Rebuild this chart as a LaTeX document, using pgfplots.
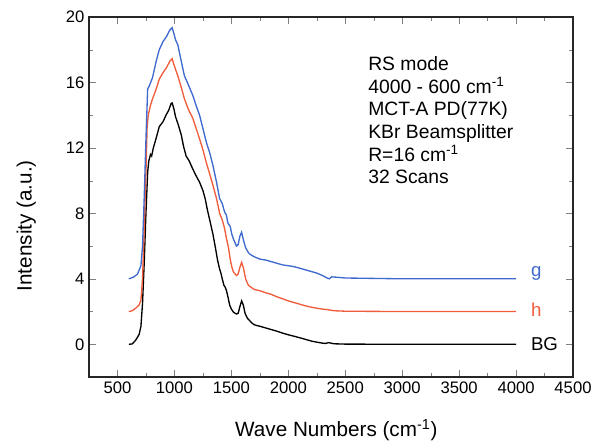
\documentclass[border=0pt]{standalone}
\usepackage{fontspec}
\setmainfont{Liberation Sans}
\usepackage{pgfplots}
\pgfplotsset{compat=1.18}
\definecolor{gblue}{RGB}{62,105,205}
\definecolor{hred}{RGB}{240,92,60}

\begin{document}
\begin{tikzpicture}
\begin{axis}[
    scale only axis,
    width=363pt, height=270pt,
    xmin=250, xmax=4500, ymin=-2, ymax=20,
    xtick={500,1000,...,4500}, ytick={0,4,...,20},
    minor x tick num=1, minor y tick num=1,
    tick align=inside,
    major tick length=5pt, minor tick length=3pt,
    /pgf/number format/assume math mode=true,
    /pgf/number format/1000 sep={},
    tick label style={font=\fontsize{12.5}{14}\selectfont},
    xlabel={Wave Numbers (cm\textsuperscript{-1})},
    ylabel={Intensity (a.u.)},
    every axis x label/.style={at={(axis description cs:0.5,0)}, xshift=4pt, yshift=-40pt,
        anchor=center, font=\fontsize{15.5}{18}\selectfont},
    every axis y label/.style={at={(axis description cs:0,0.42)}, xshift=-47pt, rotate=90,
        anchor=center, font=\fontsize{15.5}{18}\selectfont},
    axis line style={line width=0.9pt, black!85},
    every axis plot/.append style={line width=1pt, mark=none},
]
% BG
\addplot[black] coordinates {
(600,0)(630,0.02)(660,0.25)(690,0.6)(706,1.1)(720,2.5)(735,5)(750,8)(765,10.5)(775,11.2)
(790,11.6)(800,11.5)(815,12.0)(840,12.6)(867,13.3)(900,13.6)(926,14.0)(950,14.3)(970,14.7)
(980,14.75)(995,14.4)(1010,13.9)(1030,13.5)(1060,12.8)(1080,12.1)(1103,11.5)(1130,11.2)
(1162,10.7)(1190,10.3)(1221,9.9)(1250,9.4)(1270,8.9)(1290,8.2)(1310,7.6)(1339,6.7)(1360,5.9)
(1380,5.1)(1397,4.6)(1410,4.3)(1420,4.0)(1435,3.6)(1445,3.5)(1456,3.3)(1470,2.9)(1485,2.4)
(1500,2.15)(1520,1.95)(1545,1.85)(1560,1.9)(1575,2.3)(1590,2.65)(1605,2.4)(1620,1.9)(1640,1.6)
(1660,1.45)(1680,1.3)(1700,1.2)(1720,1.15)(1752,1.1)(1800,1.0)(1850,0.9)(1900,0.8)(1950,0.68)
(2000,0.58)(2046,0.5)(2100,0.4)(2150,0.3)(2200,0.2)(2250,0.13)(2300,0.07)(2330,0.05)(2350,0.1)
(2370,0.08)(2400,0.03)(2500,0.01)(3000,0)(3500,0)(4000,0)
};
% h
\addplot[hred] coordinates {
(600,2)(630,2.05)(660,2.2)(690,2.4)(706,2.7)(720,4)(735,7)(750,10.5)(760,13.2)(770,14.0)
(790,14.6)(808,15.0)(840,15.6)(867,16.2)(900,16.6)(930,16.9)(960,17.3)(980,17.45)(1000,17.0)
(1030,16.4)(1060,15.7)(1088,15.0)(1120,14.4)(1162,13.8)(1190,13.2)(1221,12.55)(1250,11.9)
(1280,11.1)(1310,10.4)(1339,9.7)(1370,8.9)(1397,8.0)(1420,7.6)(1440,7.1)(1456,6.5)(1475,5.9)
(1490,5.2)(1505,4.7)(1520,4.4)(1545,4.2)(1560,4.3)(1575,4.7)(1590,5.0)(1605,4.7)(1625,4.0)
(1650,3.6)(1670,3.5)(1700,3.35)(1752,3.27)(1800,3.15)(1850,3.05)(1900,2.9)(1950,2.78)
(2000,2.65)(2046,2.56)(2100,2.45)(2150,2.35)(2200,2.27)(2250,2.2)(2300,2.15)(2340,2.12)
(2400,2.05)(2500,2.02)(3000,2.0)(3500,2.0)(4000,2.0)
};
% g
\addplot[gblue] coordinates {
(600,4)(640,4.1)(676,4.29)(706,4.8)(720,6)(735,9)(750,12.5)(765,15.6)(780,15.8)(808,16.3)
(840,17.3)(867,18.0)(900,18.5)(930,18.8)(960,19.2)(980,19.35)(995,19.0)(1010,18.6)(1030,18.3)
(1060,17.3)(1088,16.4)(1120,15.9)(1162,15.2)(1190,14.6)(1221,14.0)(1250,13.2)(1280,12.35)
(1310,11.7)(1339,10.9)(1370,9.9)(1397,8.9)(1420,8.6)(1440,8.1)(1456,7.9)(1470,7.4)(1490,7.2)
(1505,6.7)(1520,6.4)(1545,6.0)(1560,6.1)(1575,6.6)(1590,6.85)(1605,6.4)(1625,5.9)(1650,5.6)
(1664,5.5)(1700,5.35)(1752,5.2)(1800,5.15)(1850,5.05)(1900,4.95)(1950,4.85)(2000,4.8)
(2046,4.75)(2100,4.65)(2150,4.55)(2200,4.45)(2250,4.35)(2300,4.2)(2340,4.05)(2360,4.0)
(2380,4.12)(2420,4.1)(2500,4.05)(3000,4.0)(3500,4.0)(4000,4.0)
};
\node[anchor=west, gblue, font=\fontsize{14}{16}\selectfont] at (axis cs:4090,4.3) {g};
\node[anchor=west, hred, font=\fontsize{14}{16}\selectfont] at (axis cs:4090,2.1) {h};
\node[anchor=west, black, font=\fontsize{14}{16}\selectfont] at (axis cs:4090,0) {BG};
\node[anchor=north west, align=left, font=\fontsize{14.5}{17}\selectfont, inner sep=0pt]
  at (axis cs:2700,17.6) {RS mode\\4000 - 600 cm\textsuperscript{-1}\\MCT-A PD(77K)\\KBr Beamsplitter\\R=16 cm\textsuperscript{-1}\\32 Scans};
\end{axis}
\path (current axis.south west) ++(-66.75pt,-51pt) coordinate (bbl);
\path (current axis.north east) ++(23.25pt,12.75pt) coordinate (bbr);
\useasboundingbox (bbl) rectangle (bbr);
\end{tikzpicture}
\end{document}
